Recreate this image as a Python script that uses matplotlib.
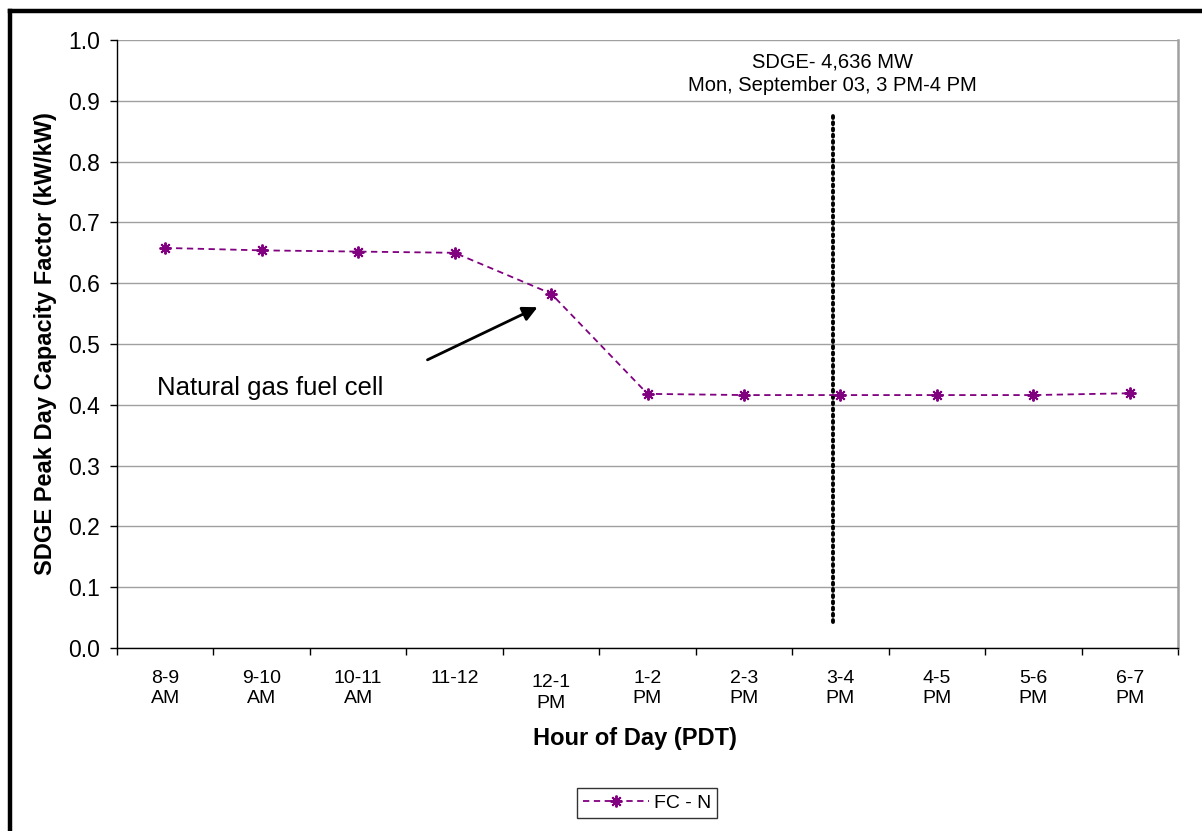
import matplotlib
matplotlib.use("Agg")
import matplotlib.pyplot as plt
from matplotlib.lines import Line2D
from matplotlib.ticker import FixedLocator, NullFormatter, FuncFormatter

plt.rcParams['font.family'] = ['Liberation Sans', 'DejaVu Sans']

hours = ["8-9\nAM", "9-10\nAM", "10-11\nAM", "11-12", "12-1\nPM", "1-2\nPM",
         "2-3\nPM", "3-4\nPM", "4-5\nPM", "5-6\nPM", "6-7\nPM"]
fc_n = [0.658, 0.654, 0.652, 0.650, 0.583, 0.418, 0.416, 0.416, 0.416, 0.416, 0.419]
peak_hour = 7
peak_span = (0.043, 0.880)
peak_text = "SDGE- 4,636 MW\nMon, September 03, 3 PM-4 PM"
series_name = "FC - N"
purple = "#800080"

W, H = 1202, 831
fig = plt.figure(figsize=(W / 100, H / 100), dpi=100)
ax = fig.add_axes([117 / W, 1 - 648 / H, (1178 - 117) / W, (648 - 40) / H])

x = list(range(len(hours)))
line, = ax.plot(x, fc_n, color=purple, lw=1.3, ls=(0, (3.5, 2.5)),
                marker=(8, 2, 0), markersize=8.5, markeredgewidth=1.4,
                markeredgecolor=purple, label=series_name, zorder=4)

# peak-hour marker line and caption
peak_x = peak_hour - 0.08
ax.plot([peak_x, peak_x], peak_span, color="black", lw=2.8,
        ls=(0, (0.5, 1.1)), dash_capstyle="round", zorder=3)
ax.text(peak_x, 0.945, peak_text, ha="center", va="center",
        fontsize=14.5, linespacing=1.3)

ax.annotate("", xy=(3.886, 0.5625), xytext=(2.693, 0.472),
            arrowprops=dict(arrowstyle="-|>", color="black", lw=2,
                            mutation_scale=22))
ax.text(-0.085, 0.428, "Natural gas fuel cell", fontsize=18.5, ha="left",
        va="center")

ax.set_xlim(-0.5, len(hours) - 0.5)
ax.set_ylim(0, 1.0)
ax.set_yticks([i / 10 for i in range(11)])
ax.yaxis.set_major_formatter(FuncFormatter(lambda v, p: f"{v:.1f}"))
ax.grid(axis="y", color="#a0a0a0", lw=1)
ax.set_axisbelow(True)

ax.xaxis.set_major_locator(FixedLocator([i - 0.5 for i in range(len(hours) + 1)]))
ax.xaxis.set_major_formatter(NullFormatter())
ax.xaxis.set_minor_locator(FixedLocator(x))
ax.set_xticklabels(hours, minor=True, fontsize=14, linespacing=1.3)
ax.tick_params(axis="x", which="minor", length=0, pad=15.5)
ax.tick_params(axis="x", which="major", length=5, width=1, direction="out")
ax.tick_params(axis="y", length=5, width=1, labelsize=16.5, pad=7)
ax.xaxis.get_minor_ticks()[4].set_pad(18.5)

ax.spines["right"].set_color("#a0a0a0")
ax.spines["right"].set_linewidth(1.8)
ax.spines["top"].set_visible(False)
for s in ("left", "bottom"):
    ax.spines[s].set_color("black")
    ax.spines[s].set_linewidth(1)

ax.set_xlabel("Hour of Day (PDT)", fontsize=17, fontweight="bold")
ax.xaxis.set_label_coords((635 - 117) / 1061, -(738 - 648) / 608)
ax.xaxis.label.set_va("center")
ax.set_ylabel("SDGE Peak Day Capacity Factor (kW/kW)", fontsize=17,
              fontweight="bold")
ax.yaxis.set_label_coords(-(117 - 46) / 1061, 0.5)
ax.yaxis.label.set_va("center")

leg = fig.legend(handles=[line], loc="center", bbox_to_anchor=(647 / W, 1 - 803 / H),
                 fontsize=14, frameon=True, fancybox=False, handlelength=3.4,
                 handletextpad=0.25, borderpad=0.3, borderaxespad=0)
leg.get_frame().set_edgecolor("black")
leg.get_frame().set_linewidth(1)

# outer frame
fig.add_artist(Line2D([9.5 / W, 9.5 / W], [0, 1 - 10.5 / H], color="black", lw=3.2,
                      transform=fig.transFigure, solid_capstyle="projecting"))
fig.add_artist(Line2D([9.5 / W, 1], [1 - 10.5 / H, 1 - 10.5 / H], color="black", lw=3.2,
                      transform=fig.transFigure, solid_capstyle="projecting"))

fig.savefig("out.png", dpi=100)
